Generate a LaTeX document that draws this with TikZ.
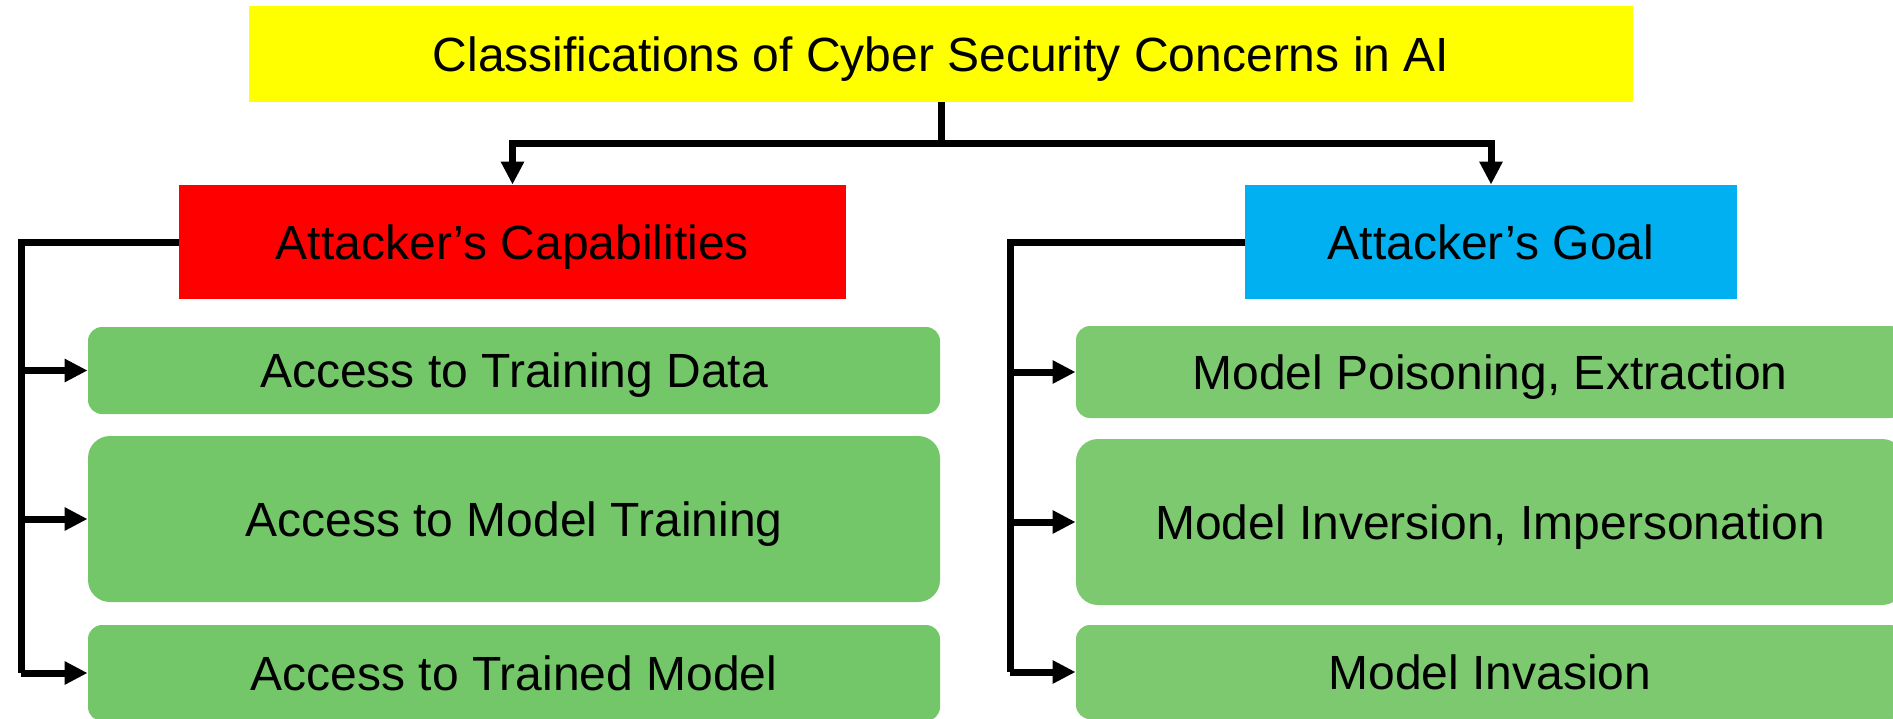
\documentclass[tikz,border=0pt]{standalone}
\usepackage{fontspec}
\setmainfont{Liberation Sans}
\usetikzlibrary{arrows.meta,positioning}

\definecolor{titleyellow}{HTML}{FFFF00}
\definecolor{capred}{HTML}{FF0000}
\definecolor{goalblue}{HTML}{00B0F0}
\definecolor{leftgreen}{HTML}{74C769}
\definecolor{rightgreen}{HTML}{7DC970}

\begin{document}
\begin{tikzpicture}[x=0.5pt,y=-0.5pt,>={Triangle[length=11.5pt,width=11pt]},
    link/.style={line width=3.5pt,draw=black},
    head/.style={inner sep=0pt,text height=17.2pt,text depth=0pt,font=\fontsize{24}{28}\selectfont},
    item/.style={head,rounded corners=7pt,minimum width=426pt},
    bigitem/.style={item,rounded corners=11pt}]
    \useasboundingbox (0,0) rectangle (1893,718);
    \clip (0,0) rectangle (1893,718);

    \node[head,fill=titleyellow,minimum width=692pt,minimum height=48pt] (title) at (941,54)
      {Classifications of Cyber Security Concerns in AI};

    \node[head,fill=capred,minimum width=333.5pt,minimum height=57pt] (cap) at (512.5,242) {Attacker’s Capabilities};
    \node[head,fill=goalblue,minimum width=246pt,minimum height=57pt] (goal) at (1491,242) {Attacker’s Goal};

    % capabilities
    \node[item,fill=leftgreen,minimum height=43.5pt] (data) at (514,370.5) {Access to Training Data};
    \node[bigitem,fill=leftgreen,minimum height=83pt] (train) at (514,519) {Access to Model Training};
    \node[item,fill=leftgreen,minimum height=48pt] (trained) at (514,673) {Access to Trained Model};

    % goals
    \node[item,fill=rightgreen,minimum width=414pt,minimum height=46pt] (poison) at (1490,372) {Model Poisoning, Extraction};
    \node[bigitem,fill=rightgreen,minimum width=414pt,minimum height=83pt] (invert) at (1490,522) {Model Inversion, Impersonation};
    \node[item,fill=rightgreen,minimum width=414pt,minimum height=47pt] (invade) at (1490,672) {Model Invasion};

    \coordinate (split) at (941,143);
    \coordinate (lbus) at (21,242);
    \coordinate (rbus) at (1010,242);

    \draw[link] (title.south) -- (split);
    \draw[link,->] (split) -| (cap.north);
    \draw[link,->] (split) -| (goal.north);

    \draw[link] (cap.west) -- (lbus) -- (lbus |- trained.west);
    \foreach \n in {data,train,trained}
      \draw[link,->] (lbus |- \n.west) -- (\n.west);

    \draw[link] (goal.west) -- (rbus) -- (rbus |- invade.west);
    \foreach \n in {poison,invert,invade}
      \draw[link,->] (rbus |- \n.west) -- (\n.west);
\end{tikzpicture}
\end{document}
